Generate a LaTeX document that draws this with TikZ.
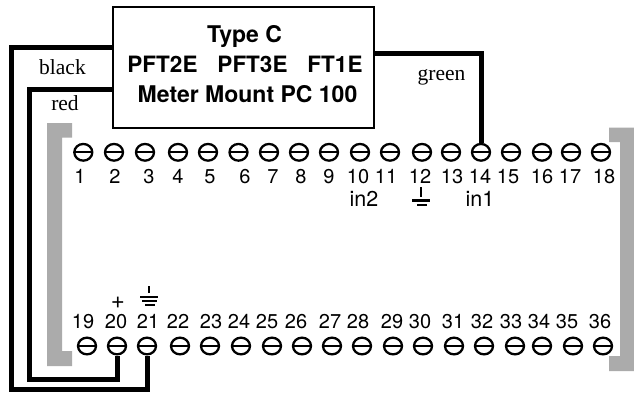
\documentclass[tikz,border=0pt]{standalone}
\usetikzlibrary{shapes.geometric}
\usepackage{fontspec}
\setmainfont{TeX Gyre Heros}
\newfontfamily\serifface{Liberation Serif}
\tikzset{
  x=1pt,y=-1pt,
  screw/.style={ellipse,draw=black,line width=2.3pt,minimum width=18pt,minimum height=16.7pt,inner sep=0pt,fill=white,
    path picture={\draw[line width=2pt] (path picture bounding box.west)--(path picture bounding box.east);}},
  numlabel/.style={font=\fontsize{20}{20}\selectfont,inner sep=0pt,anchor=base},
  sigtext/.style={font=\fontsize{21.5}{21.5}\selectfont,inner sep=0pt,anchor=base},
  wirename/.style={font=\serifface\fontsize{21.5}{21.5}\selectfont,inner sep=0pt,anchor=base},
  title/.style={font=\bfseries\fontsize{22.5}{22.5}\selectfont,inner sep=0pt,anchor=base},
  titlewide/.style={font=\bfseries\fontsize{23}{23}\selectfont,inner sep=0pt,anchor=base},
  wire/.style={line width=5pt,draw=black,line join=miter},
  rail/.style={fill=black!33,draw=none},
  earth/.style={line width=2.4pt,draw=black}
}
\begin{document}
\begin{tikzpicture}
\useasboundingbox (0,0) rectangle (634,392);
% grey rails
\fill[rail] (47,123)--(72,123)--(72,137.5)--(62,137.5)--(62,351)--(72,351)--(72,366)--(47,366)--cycle;
\fill[rail] (609,127.5)--(634,127.5)--(634,371)--(609,371)--(609,356)--(620,356)--(620,142)--(609,142)--cycle;
% meter box
\node[draw=black,line width=2pt,fill=white,minimum width=261pt,minimum height=120.5pt,inner sep=0pt] (box) at (243.5,67.5) {};
\node[titlewide] (tc) at (244.5,42) {Type C};
\node[title] (p2) at (162.5,72) {PFT2E};
\node[title] (p3) at (252.5,72) {PFT3E};
\node[title] (f1) at (335,72) {FT1E};
\node[titlewide] (mm) at (247.5,102.5) {Meter Mount PC 100};
% top row
\foreach \n/\sx/\lx in {1/83.3/80,2/114/115,3/145/149,4/178/178,5/208/210,6/238.5/245,7/269/273,8/299/301,9/329/329,10/360/358,11/390/386,12/422/420,13/451/452,14/481/480,15/511/508,16/542/542,17/571/570,18/601/604}{
  \node[screw] (s\n) at (\sx,152.3) {};
  \node[numlabel] (l\n) at (\lx,183.5) {\n};
}
% bottom row
\foreach \n/\sx/\lx in {19/87/83,20/117/116,21/147/148,22/180/178,23/210/211,24/241/239,25/272/267,26/302/296,27/332/330,28/362/358,29/393/392,30/423/420,31/454/453,32/484/482,33/515/511,34/542/539,35/573/567,36/603/600}{
  \node[screw] (s\n) at (\sx,346) {};
  \node[numlabel] (l\n) at (\lx,328.5) {\n};
}
% wires
\coordinate (bk) at (box.west |- 0,47);
\coordinate (rd) at (box.west |- 0,89);
\coordinate (gn) at (box.east |- 0,53);
\draw[wire] (bk) -| (11.7,389.5) -| (s21.south);
\draw[wire] (rd) -| (29,379) -| (s20.south);
\draw[wire] (gn) -| (s14.north);
% wire names
\node[wirename] (wb) at (62.5,74) {black};
\node[wirename] (wr) at (65,110) {red};
\node[wirename] (wg) at (441.5,80) {green};
% signal labels
\node[sigtext] (in2) at (364,206.5) {in2};
\node[sigtext] (in1) at (480,206.5) {in1};
\node[font=\fontsize{24}{24}\selectfont,inner sep=0pt,anchor=base] (plus) at (118,308) {+};
% earth symbols
\coordinate (e1) at (421,187);
\draw[earth] (e1)--++(0,10);
\draw[earth] (412,200.5)--(430,200.5);
\draw[earth] (417,205)--(427,205);
\coordinate (e2) at (149,286);
\draw[earth] (e2)--++(0,7);
\draw[earth] (140,297)--(158,297);
\draw[earth] (142,301)--(157,301);
\draw[earth] (145,305)--(155,305);
\end{tikzpicture}
\end{document}
